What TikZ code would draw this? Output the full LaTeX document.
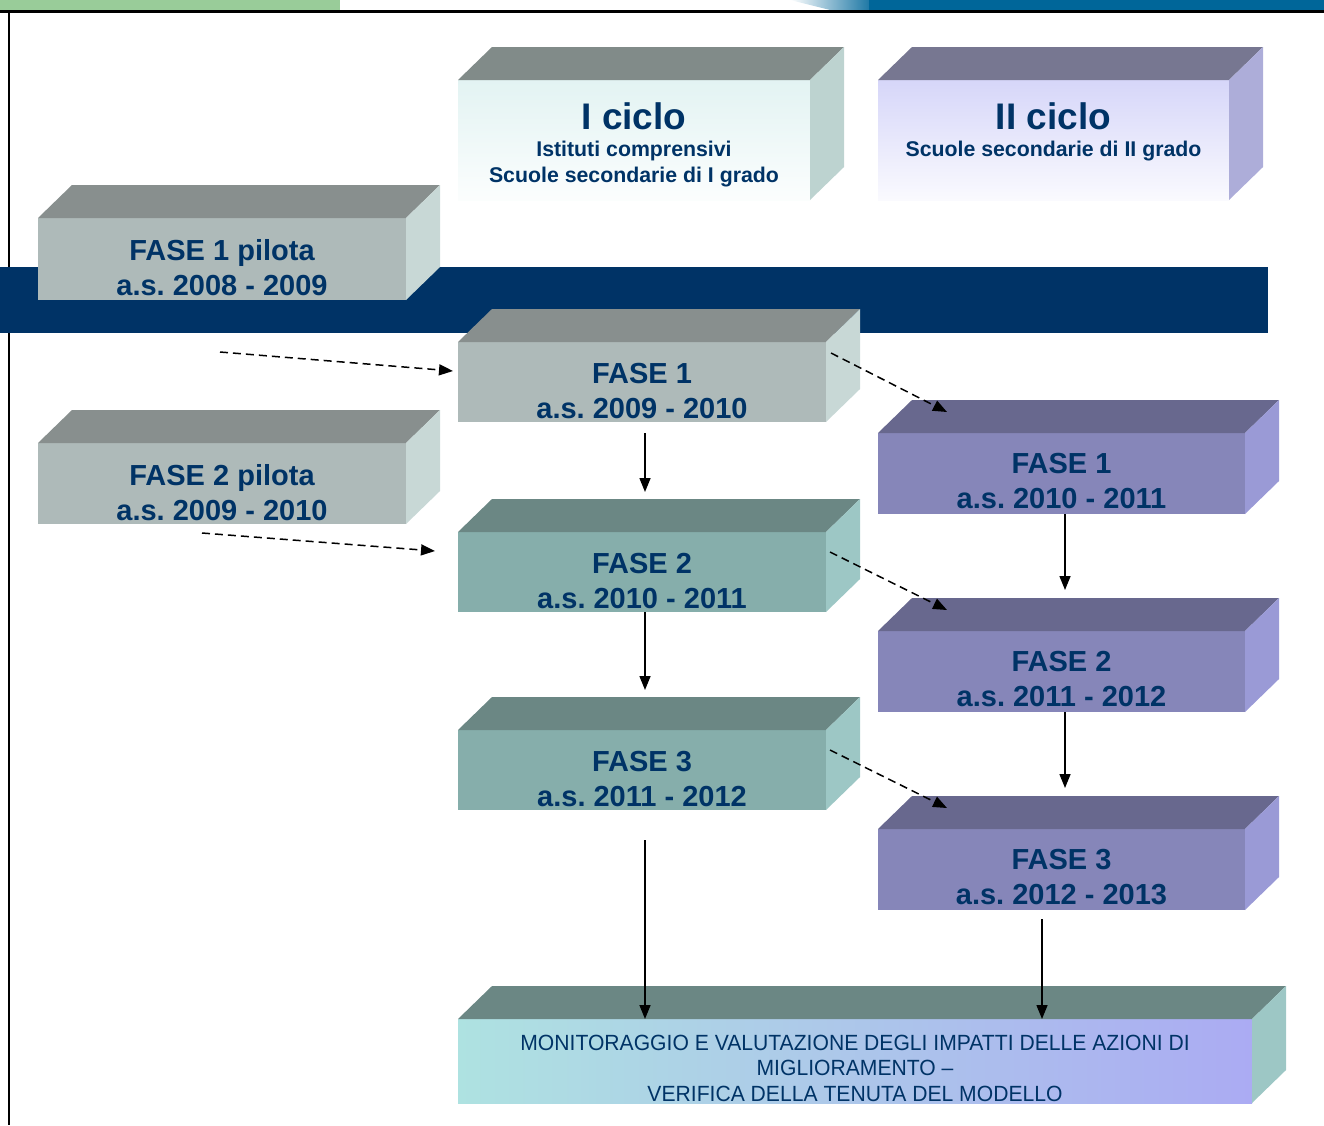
\documentclass[tikz,border=0pt]{standalone}
\usepackage{fontspec}
\setmainfont{Liberation Sans}
\newfontfamily\narrowfont[FakeStretch=0.96]{Liberation Sans}
\usepackage{tikz}
\usetikzlibrary{
  arrows.meta,
  calc,
  positioning}
\frenchspacing

\definecolor{navy}{RGB}{0,51,102}
\definecolor{topblu}{RGB}{0,102,153}
\definecolor{topverde}{RGB}{153,204,153}
\definecolor{cifr}{RGB}{214,238,237}
\definecolor{citop}{RGB}{129,139,137}
\definecolor{ciside}{RGB}{189,211,208}
\definecolor{ciifr}{RGB}{196,196,246}
\definecolor{ciitop}{RGB}{119,119,145}
\definecolor{ciiside}{RGB}{173,173,217}
\definecolor{grfr}{RGB}{174,186,185}
\definecolor{grtop}{RGB}{136,143,142}
\definecolor{grside}{RGB}{200,216,214}
\definecolor{vdfr}{RGB}{134,174,171}
\definecolor{vdtop}{RGB}{107,135,132}
\definecolor{vdside}{RGB}{157,199,197}
\definecolor{vlfr}{RGB}{134,134,185}
\definecolor{vltop}{RGB}{104,104,142}
\definecolor{vlside}{RGB}{154,154,214}
\definecolor{monsx}{RGB}{174,226,225}
\definecolor{mondx}{RGB}{171,171,243}

\pgfdeclareverticalshading{sfumI}{100bp}{color(0bp)=(cifr); color(18bp)=(white); color(100bp)=(cifr)}
\pgfdeclareverticalshading{sfumII}{100bp}{color(0bp)=(ciifr); color(18bp)=(white); color(100bp)=(ciifr)}

\tikzset{
  faccia/.style={inner sep=0pt, outer sep=0pt, anchor=north west},
  fasetxt/.style={text=navy, font=\bfseries\fontsize{29}{35}\selectfont, align=center, inner sep=0pt},
  titolo/.style={text=navy, font=\bfseries\fontsize{37}{40}\selectfont, inner sep=0pt},
  sottotit/.style={text=navy, font=\bfseries\fontsize{21.3}{26}\selectfont, align=center, inner sep=0pt},
  montxt/.style={text=navy, font=\narrowfont\fontsize{22}{25.5}\selectfont, align=center, inner sep=0pt},
  freccia/.style={line width=1.5pt, -{Triangle[length=14pt,width=11pt]}},
  tratteggio/.style={freccia, dash pattern=on 8pt off 5pt}}

% #1 nome, #2 angolo, #3 larghezza, #4 altezza, #5 fronte, #6 sopra, #7 lato
\newcommand{\blocco}[7]{%
  \node[faccia, minimum width=#3, minimum height=#4, #5] (#1) at #2 {};
  \fill[#6] (#1.north west) -- ++(34,33) -- ($(#1.north east)+(34,33)$) -- (#1.north east) -- cycle;
  \fill[#7] (#1.north east) -- ++(34,33) -- ($(#1.south east)+(34,33)$) -- (#1.south east) -- cycle;
}

\begin{document}
\begin{tikzpicture}[x=1pt,y=1pt]
  \useasboundingbox (0,0) rectangle (1324,-1125);
  % testata
  \fill[topverde] (0,0) rectangle (340,-10);
  \shade[left color=white, right color=topblu] (790,0) -- (870,0) -- (880,-10) -- (830,-10) -- cycle;
  \fill[topblu] (869,0) rectangle (1324,-10);
  \draw[line width=2.5pt] (0,-11.5) -- (1324,-11.5);
  \draw[line width=2pt] (8.5,-11.5) -- (8.5,-1125);
  \fill[navy] (0,-267) rectangle (1268,-333);

  \blocco{c1}{(458,-80)}{352}{120}{shading=sfumI}{citop}{ciside}
  \node[titolo] (c1t) at ([yshift=24]c1.center) {I ciclo};
  \node[sottotit] (c1s) at ([yshift=-24]c1.center) {Istituti comprensivi\\Scuole secondarie di I grado};

  \blocco{c2}{(878,-80)}{351}{120}{shading=sfumII}{ciitop}{ciiside}
  \node[titolo] (c2t) at ([yshift=24]c2.center) {II ciclo};
  \node[sottotit] (c2s) at ([yshift=-11]c2.center) {Scuole secondarie di II grado};

  \blocco{p1}{(38,-218)}{368}{82}{fill=grfr}{grtop}{grside}
  \node[fasetxt] (p1t) at ([yshift=-9]p1.center) {FASE 1 pilota\\a.s. 2008 - 2009};
  \blocco{p2}{(38,-443)}{368}{81}{fill=grfr}{grtop}{grside}
  \node[fasetxt] (p2t) at ([yshift=-9]p2.center) {FASE 2 pilota\\a.s. 2009 - 2010};

  \blocco{f1}{(458,-342)}{368}{80}{fill=grfr}{grtop}{grside}
  \node[fasetxt] (f1t) at ([yshift=-9]f1.center) {FASE 1\\a.s. 2009 - 2010};
  \blocco{f2}{(458,-532)}{368}{80}{fill=vdfr}{vdtop}{vdside}
  \node[fasetxt] (f2t) at ([yshift=-9]f2.center) {FASE 2\\a.s. 2010 - 2011};
  \blocco{f3}{(458,-730)}{368}{80}{fill=vdfr}{vdtop}{vdside}
  \node[fasetxt] (f3t) at ([yshift=-9]f3.center) {FASE 3\\a.s. 2011 - 2012};

  \blocco{r1}{(878,-433)}{367}{81}{fill=vlfr}{vltop}{vlside}
  \node[fasetxt] (r1t) at ([yshift=-8]r1.center) {FASE 1\\a.s. 2010 - 2011};
  \blocco{r2}{(878,-631)}{367}{81}{fill=vlfr}{vltop}{vlside}
  \node[fasetxt] (r2t) at ([yshift=-8]r2.center) {FASE 2\\a.s. 2011 - 2012};
  \blocco{r3}{(878,-829)}{367}{81}{fill=vlfr}{vltop}{vlside}
  \node[fasetxt] (r3t) at ([yshift=-8]r3.center) {FASE 3\\a.s. 2012 - 2013};

  \blocco{mon}{(458,-1019)}{794}{84}{left color=monsx, right color=mondx}{vdtop}{vdside}
  \node[montxt] (mont) at ([yshift=-7]mon.center) {MONITORAGGIO E VALUTAZIONE DEGLI IMPATTI DELLE AZIONI DI\\MIGLIORAMENTO –\\VERIFICA DELLA TENUTA DEL MODELLO};

  % frecce
  \coordinate (s1) at (220,-352);
  \coordinate (s2) at (202,-533);
  \draw[tratteggio] (s1) -- ([shift={(-5,-29)}]f1.north west);
  \draw[tratteggio] (s2) -- ([shift={(-23,-19)}]f2.north west);
  \draw[tratteggio] ([shift={(5,-11)}]f1.north east) -- ([shift={(69,21)}]r1.north west);
  \draw[tratteggio] ([shift={(4,-20)}]f2.north east) -- ([shift={(69,21)}]r2.north west);
  \draw[tratteggio] ([shift={(4,-20)}]f3.north east) -- ([shift={(69,21)}]r3.north west);
  \draw[freccia] ([shift={(3,-11)}]f1.south) -- ([shift={(3,40)}]f2.north);
  \draw[freccia] ([xshift=3]f2.south) -- ([shift={(3,40)}]f3.north);
  \draw[freccia] ([shift={(3,-30)}]f3.south) -- ([xshift=3]f3.south |- mon.north);
  \draw[freccia] ([xshift=3.5]r1.south) -- ([shift={(3.5,41)}]r2.north);
  \draw[freccia] ([xshift=3.5]r2.south) -- ([shift={(3.5,41)}]r3.north);
  \draw[freccia] ([shift={(-19.5,-9)}]r3.south) -- ([xshift=-19.5]r3.south |- mon.north);
\end{tikzpicture}
\end{document}
